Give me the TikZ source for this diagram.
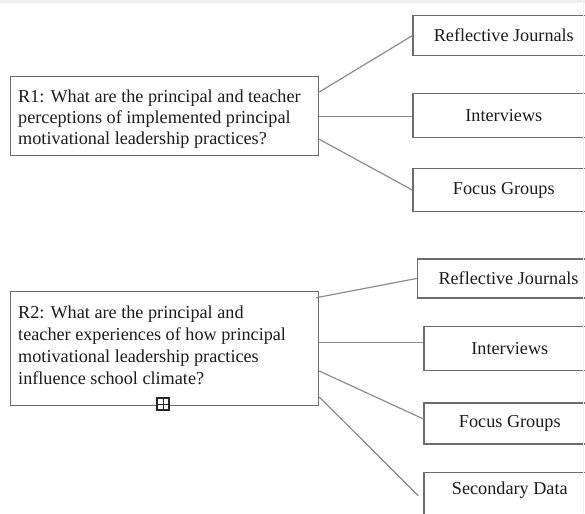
\documentclass[tikz,border=0pt]{standalone}
\usepackage{fontspec}
\setmainfont{Liberation Serif}
\usetikzlibrary{calc}
\definecolor{boxline}{HTML}{6C6C6C}
\definecolor{linkline}{HTML}{8C8C8C}
\definecolor{inktext}{HTML}{1C1C1C}
\definecolor{edgetint}{HTML}{EEEEEE}

\begin{document}
\begin{tikzpicture}[x=1pt, y=-1pt,
  every node/.style={font=\fontsize{18.2}{21}\selectfont, text=inktext},
  framebox/.style={draw=boxline, line width=1.3pt, fill=white, inner sep=0pt,
                   anchor=north west},
  qtext/.style={anchor=west, align=left, inner sep=0pt},
  link/.style={draw=linkline, line width=1.2pt}]
  \useasboundingbox (0,0) rectangle (585,513);

  % faint top edge
  \fill[edgetint] (0,0) rectangle (585,3.5);

  % ---- research question 1 ----
  \node[framebox, minimum width=308pt, minimum height=79pt] (r1) at (10,76) {};
  \node[qtext, font=\fontsize{18.2}{21}\selectfont] (r1t) at ($(r1.west)+(8,2.5)$)
    {R1: What are the principal and teacher\\
     perceptions of implemented principal\\
     motivational leadership practices?};

  \node[framebox, minimum width=181.7pt, minimum height=40pt] (rj1) at (412.3,15) {Reflective Journals};
  \node[framebox, minimum width=181.7pt, minimum height=44pt] (int1) at (412.3,92.7) {Interviews};
  \node[framebox, minimum width=181.7pt, minimum height=42.7pt] (fg1) at (412.3,168) {Focus Groups};

  \draw[link] ($(r1.north east)+(0,16)$) -- (rj1.west);
  \draw[link] (r1.east) -- (r1.east -| int1.west);
  \draw[link] ($(r1.south east)+(0,-17)$) -- (fg1.west);

  % ---- research question 2 ----
  \node[framebox, minimum width=308pt, minimum height=114.3pt] (r2) at (10,290.7) {};
  \node[qtext, font=\fontsize{18.2}{22}\selectfont] (r2t) at ($(r2.west)+(8,-3)$)
    {R2: What are the principal and\\
     teacher experiences of how principal\\
     motivational leadership practices\\
     influence school climate?};

  \node[framebox, minimum width=182.3pt, minimum height=39pt] (rj2) at (416.7,258.3) {Reflective Journals};
  \node[framebox, minimum width=171.7pt, minimum height=44.3pt] (int2) at (423.3,325.7) {Interviews};
  \node[framebox, minimum width=171.7pt, minimum height=41pt] (fg2) at (423.3,402.3) {Focus Groups};
  \node[framebox, minimum width=171.7pt, minimum height=42.8pt, text depth=11pt] (sd) at (423.3,471.7) {Secondary Data};

  \coordinate (r2a) at ($(r2.north east)+(-3,7)$);
  \coordinate (r2b) at ($(r2.north east)+(0,51.6)$);
  \coordinate (r2c) at ($(r2.north east)+(0,80.3)$);
  \coordinate (r2d) at ($(r2.south east)+(0,-9.3)$);
  \coordinate (sdend) at ($(sd.west)+(-5,2)$);

  \draw[link] (r2a) -- (rj2.west);
  \draw[link] (r2b) -- (r2b -| int2.west);
  \draw[link] (r2c) -- ($(fg2.west)+(0,-4.5)$);
  \draw[link] (r2d) -- (sdend);

  % faint right edge, over the cut-off boxes
  \draw[edgetint, line width=1pt] (583.5,3.5) -- (583.5,513);

  % expand handle on the lower edge of the second question box
  \node[draw=black!85, fill=white, line width=1.1pt, minimum size=12pt, inner sep=0pt] (handle) at (163,404) {};
  \draw[black!85, line width=1pt] ($(handle.north)+(0,2)$) -- ($(handle.south)+(0,-2)$);
  \draw[black!85, line width=1pt] ($(handle.west)+(2,0)$) -- ($(handle.east)+(-2,0)$);
\end{tikzpicture}
\end{document}
